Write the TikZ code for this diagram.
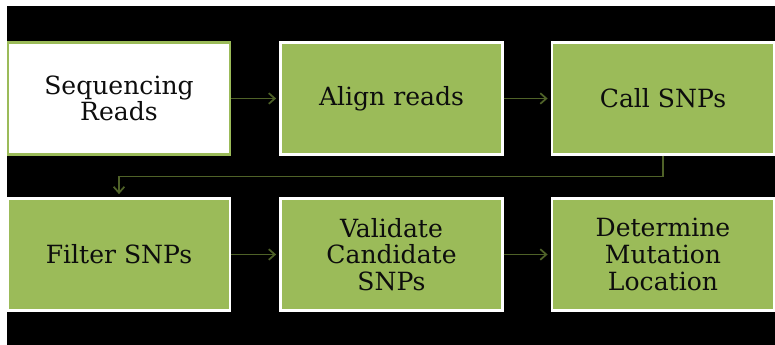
\documentclass[tikz,border=0pt]{standalone}
\usepackage{fontspec}
\setmainfont{DejaVu Serif}
\usetikzlibrary{arrows.meta,calc}
\definecolor{olive}{HTML}{9BBB59}
\definecolor{darkolive}{HTML}{4F6228}
\definecolor{ink}{HTML}{0D0D0D}
\begin{document}
\begin{tikzpicture}[x=0.75pt,y=-0.75pt,
  stepbox/.style={draw=white,line width=1.6pt,fill=olive,minimum width=222*0.75pt,
    minimum height=112*0.75pt,inner sep=0pt,align=center,text=ink,
    font=\fontsize{18.8}{20}\selectfont},
  startbox/.style={stepbox,draw=olive,line width=2pt,fill=white},
  flow/.style={draw=darkolive,line width=1.3pt,
    -{Straight Barb[length=4.5pt,width=8pt,line width=1.3pt]},shorten >=2.5pt}]
  \useasboundingbox (0,0) rectangle (775,345);
  \fill[white] (0,0) rectangle (775,345);
  \fill[black] (7,6) rectangle (774.5,345);
  % first row
  \node[startbox] (seq) at (119,98.5) {Sequencing\\Reads};
  \node[stepbox] (align) at (391.5,98.5) {Align reads};
  \node[stepbox] (call) at (663,98.5) {Call SNPs};
  % second row
  \node[stepbox] (filter) at (119,254.5) {Filter SNPs};
  \node[stepbox] (valid) at (391.5,254.5) {Validate\\Candidate\\SNPs};
  \node[stepbox] (loc) at (663,254.5) {Determine\\Mutation\\Location};
  % connectors
  \draw[flow] (seq.east) -- (align.west);
  \draw[flow] (align.east) -- (call.west);
  \coordinate (turn) at ($(call.south)!0.5!(filter.north)$);
  \draw[flow] (call.south) |- (turn) -| (filter.north);
  \draw[flow] (filter.east) -- (valid.west);
  \draw[flow] (valid.east) -- (loc.west);
\end{tikzpicture}
\end{document}
